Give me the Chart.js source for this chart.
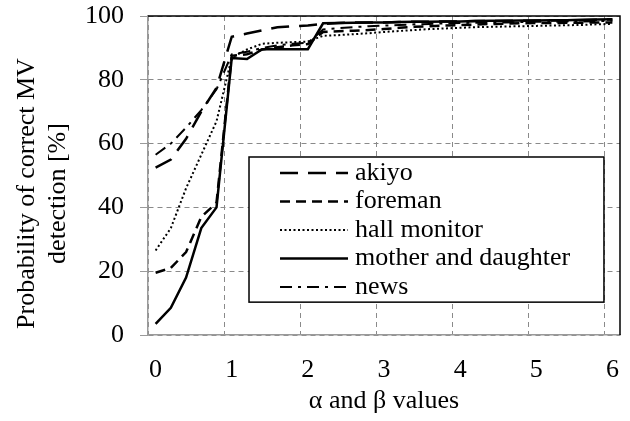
<!DOCTYPE html>
<html>
<head>
<meta charset="utf-8">
<script src="https://cdn.jsdelivr.net/npm/chart.js@4/dist/chart.umd.min.js"></script>
<style>
	html, body { margin: 0; padding: 0; background: #fff; }
	#wrap { width: 630px; height: 421px; }
</style>
</head>
<body>
<div id="wrap"><canvas id="grafik"></canvas></div>
<script>
	var xValues = [0, 0.2, 0.4, 0.6, 0.8, 1, 1.2, 1.4, 1.6, 1.8, 2, 2.2, 2.4, 2.6, 2.8, 3, 3.2, 3.4, 3.6, 3.8, 4, 4.2, 4.4, 4.6, 4.8, 5, 5.2, 5.4, 5.6, 5.8, 6];
	var yTicks = [0, 20, 40, 60, 80, 100];

	var akiyo = [52.5, 55, 61.5, 70, 77.5, 93.5, 94.5, 95.5, 96.5, 96.8, 97, 97.5, 97.8, 98, 98, 98, 98.1, 98.2, 98.2, 98.3, 98.3, 98.4, 98.4, 98.5, 98.5, 98.6, 98.6, 98.7, 98.7, 98.8, 98.9];
	var foreman = [19.5, 21, 26, 37, 41.5, 87.5, 88, 89.5, 90.2, 90.8, 91.2, 95, 95.2, 95.4, 95.6, 95.9, 96.3, 96.6, 96.8, 97, 97.2, 97.3, 97.5, 97.6, 97.7, 97.8, 97.8, 97.9, 97.9, 98, 98];
	var hallMonitor = [26.5, 33.5, 46, 56.5, 67, 87, 89.5, 91.3, 91.6, 91.8, 92, 93.8, 94, 94.3, 94.6, 95, 95.3, 95.6, 95.9, 96.1, 96.3, 96.5, 96.6, 96.7, 96.8, 96.9, 97, 97.1, 97.2, 97.4, 97.5];
	var motherDaughter = [3.5, 8.5, 18, 33.5, 40, 86.8, 86.5, 89.6, 89.6, 89.6, 89.6, 97.7, 97.8, 97.9, 98, 98, 98.1, 98.2, 98.2, 98.3, 98.3, 98.4, 98.5, 98.5, 98.6, 98.6, 98.7, 98.7, 98.8, 98.9, 99];
	var news = [56.5, 60, 65, 70.5, 77, 88, 88.8, 90, 90.8, 91.3, 91.6, 95.8, 96.2, 96.5, 96.8, 97, 97.2, 97.4, 97.5, 97.7, 97.8, 97.9, 98, 98, 98.1, 98.2, 98.2, 98.3, 98.3, 98.4, 98.5];

	var FONT = 'Liberation Serif';
	var FSIZE = 26;

	function seri(label, data, dash, width) {
		return {
			label: label,
			data: data,
			borderColor: '#000',
			backgroundColor: '#000',
			borderWidth: width,
			borderDash: dash,
			pointRadius: 0,
			tension: 0,
			fill: false
		};
	}

	// kotak legenda di dalam area plot + judul sumbu y + bingkai atas/kanan
	var extras = {
		id: 'extras',
		afterDraw: function (chart) {
			var ctx = chart.ctx;
			var ca = chart.chartArea;
			var w = ca.right - ca.left;
			var h = ca.bottom - ca.top;

			ctx.save();
			ctx.strokeStyle = '#000';
			ctx.lineWidth = 1.5;
			ctx.beginPath();
			ctx.moveTo(ca.left, ca.top);
			ctx.lineTo(ca.right, ca.top);
			ctx.lineTo(ca.right, ca.bottom);
			ctx.stroke();

			// legenda
			var bx = ca.left + 0.214 * w;
			var by = ca.top + 0.442 * h;
			var bw = 0.752 * w;
			var bh = 0.455 * h;
			ctx.fillStyle = '#fff';
			ctx.fillRect(bx, by, bw, bh);
			ctx.strokeStyle = '#000';
			ctx.lineWidth = 1.5;
			ctx.setLineDash([]);
			ctx.strokeRect(bx, by, bw, bh);

			ctx.font = FSIZE + 'px "' + FONT + '"';
			ctx.textBaseline = 'middle';
			ctx.textAlign = 'left';
			var sets = chart.data.datasets;
			for (var i = 0; i < sets.length; i++) {
				var ry = by + 16 + i * 28.5;
				ctx.beginPath();
				ctx.setLineDash(sets[i].borderDash);
				ctx.lineWidth = sets[i].borderWidth;
				ctx.strokeStyle = '#000';
				ctx.moveTo(bx + 31, ry);
				ctx.lineTo(bx + 99, ry);
				ctx.stroke();
				ctx.setLineDash([]);
				ctx.fillStyle = '#000';
				ctx.fillText(sets[i].label, bx + 106, ry);
			}

			// judul sumbu y
			var cy = (ca.top + ca.bottom) / 2 + 18;
			ctx.translate(27, cy);
			ctx.rotate(-Math.PI / 2);
			ctx.textAlign = 'center';
			ctx.fillText('Probability of correct MV', 0, 0);
			ctx.fillText('detection [%]', 0, 31);
			ctx.restore();
		}
	};

	var chartdata = {
		labels: xValues,
		datasets: [
			seri('akiyo', akiyo, [18, 10], 2.5),
			seri('foreman', foreman, [10, 6], 2.5),
			seri('hall monitor', hallMonitor, [2, 2.5], 2),
			seri('mother and daughter', motherDaughter, [], 2.5),
			seri('news', news, [12, 6, 3, 6], 2)
		]
	};

	var ctx = document.getElementById('grafik');

	var lineGraph = new Chart(ctx, {
		type: 'line',
		data: chartdata,
		options: {
			responsive: true,
			maintainAspectRatio: false,
			animation: false,
			events: [],
			layout: { padding: { left: 0, right: 10, top: 16, bottom: 4 } },
			plugins: {
				legend: { display: false },
				tooltip: { enabled: false }
			},
			scales: {
				x: {
					type: 'category',
					offset: true,
					afterFit: function (scale) {
						scale.height = 82;
						scale.paddingLeft = 0;
						scale.paddingRight = 0;
					},
					grid: {
						offset: true,
						drawTicks: false,
						lineWidth: 1,
						color: function (c) {
							return c.index % 5 === 0 ? '#8a8a8a' : 'transparent';
						}
					},
					border: { display: true, color: '#9a9a9a', width: 1.5, dash: [5, 4] },
					ticks: {
						autoSkip: false,
						maxRotation: 0,
						padding: 20,
						color: '#000',
						font: { family: FONT, size: FSIZE },
						callback: function (value, index) {
							return index % 5 === 0 ? String(xValues[index]) : '';
						}
					},
					title: {
						display: true,
						text: 'α and β values',
						color: '#000',
						font: { family: FONT, size: FSIZE },
						padding: { top: 0, bottom: 0 }
					}
				},
				y: {
					min: 0,
					max: 100,
					afterFit: function (scale) {
						scale.width = 148;
						scale.paddingTop = 0;
						scale.paddingBottom = 0;
					},
					afterBuildTicks: function (scale) {
						scale.ticks = yTicks.map(function (v) { return { value: v }; });
					},
					grid: {
						color: '#8a8a8a',
						lineWidth: 1,
						tickLength: 8,
						tickColor: '#9a9a9a',
						tickBorderDash: []
					},
					border: { display: true, color: '#9a9a9a', width: 1.5, dash: [5, 4] },
					ticks: {
						padding: 16,
						color: '#000',
						font: { family: FONT, size: FSIZE }
					}
				}
			}
		},
		plugins: [extras]
	});
</script>
</body>
</html>
